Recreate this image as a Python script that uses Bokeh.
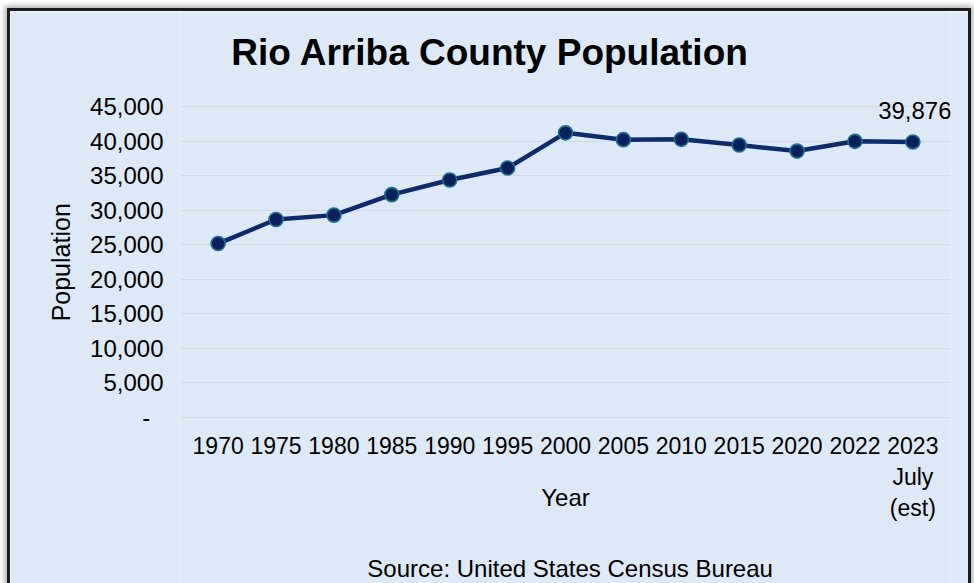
from bokeh.plotting import figure
from bokeh.models import (FactorRange, Range1d, FixedTicker, NumeralTickFormatter,
                          Label, LabelSet, ColumnDataSource)
from bokeh.core.properties import value
from bokeh.embed import file_html
from bokeh.resources import INLINE

# ---- data ----
years = ["1970", "1975", "1980", "1985", "1990", "1995", "2000", "2005",
         "2010", "2015", "2020", "2022", "2023\nJuly\n(est)"]
population = [25170, 28650, 29282, 32250, 34365, 36100, 41190, 40200,
              40246, 39420, 38550, 39960, 39876]
y_ticks = [0, 5000, 10000, 15000, 20000, 25000, 30000, 35000, 40000, 45000]
title_text = "Rio Arriba County Population"
x_title = "Year"
y_title = "Population"
source_note = "Source: United States Census Bureau"

FONT = "Liberation Sans"
BG = "#DDE9F6"

# ---- layout (pixels) ----
FIG_W, FIG_H = 964, 578
AXIS_PX = 311          # height of the 0..45,000 span
TOP_PX = 95            # space above 45,000 inside the figure
BOTTOM_PX = FIG_H - TOP_PX - AXIS_PX
u_per_px = y_ticks[-1] / AXIS_PX
y_start = -BOTTOM_PX * u_per_px
y_end = y_ticks[-1] + TOP_PX * u_per_px

src = ColumnDataSource(data=dict(year=years, pop=population))

p = figure(width=FIG_W, height=FIG_H,
           x_range=FactorRange(*years, range_padding=0.15,
                               range_padding_units="absolute"),
           y_range=Range1d(y_start, y_end), output_backend="svg",
           toolbar_location=None,
           min_border_left=170, min_border_right=24,
           min_border_top=0, min_border_bottom=0)
p.styles = {"margin-left": "7px", "margin-top": "8px",
            "border": "3px solid #1b1b1b",
            "box-shadow": "0 0 6px 2px rgba(0,0,0,0.35)"}

p.background_fill_color = BG
p.border_fill_color = BG
p.outline_line_color = None

# grid
p.xgrid.grid_line_color = None
p.ygrid.grid_line_color = "#D6D9DC"
p.ygrid.grid_line_width = 1

# y axis
p.yaxis.ticker = FixedTicker(ticks=y_ticks)
p.yaxis.formatter = NumeralTickFormatter(format="0,0")
p.yaxis.major_label_overrides = {0: "-\u00a0\u00a0"}
p.yaxis.axis_line_color = None
p.yaxis.major_tick_line_color = None
p.yaxis.minor_tick_line_color = None
p.yaxis.major_tick_out = 0
p.yaxis.major_label_standoff = 17
p.yaxis.major_label_text_font = FONT
p.yaxis.major_label_text_font_size = "24px"
p.yaxis.major_label_text_color = "#000000"
# label is centred on the tall frame; leading no-break spaces lift it to the
# middle of the 0..45,000 span
p.yaxis.axis_label = "\u00a0" * 11 + y_title
p.yaxis.axis_label_text_font = FONT
p.yaxis.axis_label_text_font_size = "25px"
p.yaxis.axis_label_text_font_style = "normal"
p.yaxis.axis_label_text_color = "#000000"
p.yaxis.axis_label_standoff = 12

# x axis, drawn at y = 0 inside the tall frame
p.xaxis.fixed_location = 0
p.xaxis.axis_line_color = None
p.xaxis.major_tick_line_color = None
p.xaxis.minor_tick_line_color = None
p.xaxis.major_tick_out = 0
p.xaxis.major_tick_in = 0
p.xaxis.major_label_standoff = 15
p.xaxis.major_label_text_font = FONT
p.xaxis.major_label_text_font_size = "23px"
p.xaxis.major_label_text_color = "#000000"
p.xaxis.major_label_text_align = "center"
p.xaxis.axis_label = x_title
p.xaxis.axis_label_text_font = FONT
p.xaxis.axis_label_text_font_size = "24px"
p.xaxis.axis_label_text_font_style = "normal"
p.xaxis.axis_label_text_color = "#000000"
p.xaxis.axis_label_standoff = -40

# series
p.line(x="year", y="pop", source=src, line_width=4.5, line_color="#0E2A6B")
p.scatter(x="year", y="pop", source=src, size=14, fill_color="#0A1F5C",
          line_color="#1E6F8E", line_width=1.6)

# last value label
last = ColumnDataSource(data=dict(x=[years[-1]], y=[population[-1]],
                                  t=[f"{population[-1]:,}"]))
p.add_layout(LabelSet(x="x", y="y", text="t", source=last, text_align="center",
                      text_baseline="alphabetic", x_offset=2, y_offset=23,
                      text_font=value(FONT), text_font_size=value("24px"),
                      text_color="#000000"))

# chart title and source note (inside the tall frame)
p.add_layout(Label(x=5.2, y=y_ticks[-1] + 54 * u_per_px, text=title_text,
                   text_align="center", text_baseline="middle",
                   text_font=FONT, text_font_size="37px",
                   text_font_style="bold", text_color="#000000"))
p.add_layout(Label(x=6.58, y=-151 * u_per_px, text=source_note,
                   text_align="center", text_baseline="middle",
                   text_font=FONT, text_font_size="24px",
                   text_color="#000000"))

html = file_html(p, INLINE)
html = html.replace("<body>", '<body style="margin:0;background:#cfcfcf;overflow:hidden;">', 1)
open("out.html", "w").write(html)
